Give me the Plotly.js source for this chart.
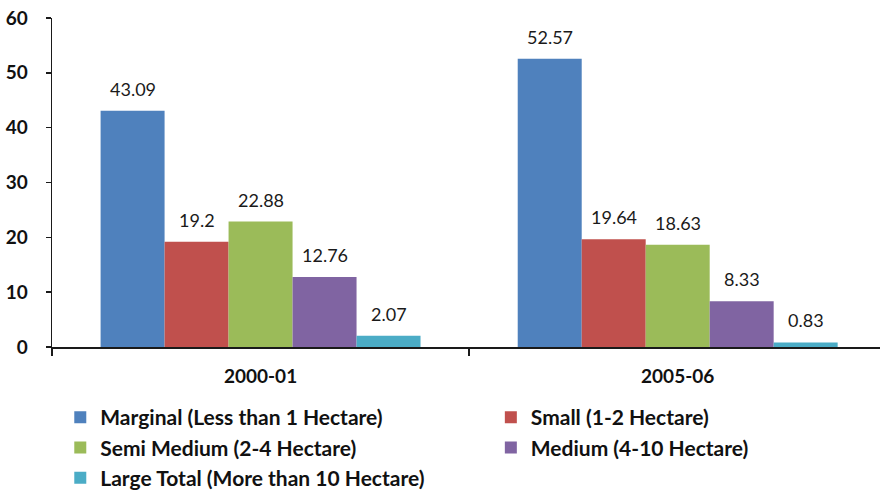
<!DOCTYPE html>
<html><head><meta charset="utf-8">
<script src="https://cdn.plot.ly/plotly-3.0.1.min.js"></script>
<style>html,body{margin:0;padding:0;background:#fff}</style>
</head><body><div id="chart" style="width:880px;height:491px"></div>
<script>
const categories = ["2000-01", "2005-06"];
const seriesNames = ["Marginal (Less than 1 Hectare)", "Small (1-2 Hectare)", "Semi Medium (2-4 Hectare)", "Medium (4-10 Hectare)", "Large Total (More than 10 Hectare)"];
const marginal = [43.09, 52.57];
const small = [19.2, 19.64];
const semiMedium = [22.88, 18.63];
const medium = [12.76, 8.33];
const largeTotal = [2.07, 0.83];
const yTicks = [0, 10, 20, 30, 40, 50, 60];

const seriesValues = [marginal, small, semiMedium, medium, largeTotal];
const colors = ["#4F81BD", "#C0504D", "#9BBB59", "#8064A2", "#4BACC6"];
const legendOf = ["legend", "legend2", "legend", "legend2", "legend"];
const FONT = "Lato, 'Open Sans', sans-serif";

const W = 880, H = 491, ML = 52, MR = 0;
const xRange = [-0.5, 1.485];
const bargap = 0.233;
const catPx = (W - ML - MR) / (xRange[1] - xRange[0]);
const barPx = catPx * (1 - bargap) / seriesValues.length;

const traces = seriesValues.map((vals, i) => ({
  type: "bar", x: categories, y: vals, name: seriesNames[i],
  marker: {color: colors[i], line: {width: 0}},
  legend: legendOf[i], hoverinfo: "skip"
}));

const annotations = [];
seriesValues.forEach((vals, i) => {
  vals.forEach((v, j) => {
    annotations.push({
      x: categories[j], y: v, xref: "x", yref: "y",
      text: String(v), showarrow: false, yanchor: "bottom",
      xshift: (i - (seriesValues.length - 1) / 2) * barPx, yshift: 9,
      font: {family: FONT, size: 18, color: "#1a1a1a"}
    });
  });
});

const legendFont = {family: FONT, size: 21, color: "#111", weight: "bold"};
const legendTop = 1 - 397 / H;
const layout = {
  width: W, height: H,
  margin: {l: ML, r: MR, t: 18, b: 144},
  paper_bgcolor: "#fff", plot_bgcolor: "#fff",
  barmode: "group", bargap: bargap, bargroupgap: 0,
  showlegend: true,
  xaxis: {
    type: "category", range: xRange, tickson: "boundaries",
    ticks: "outside", ticklen: 7, tickwidth: 1.5, tickcolor: "#1a1a1a",
    showline: true, linecolor: "#1a1a1a", linewidth: 2,
    showgrid: false, zeroline: false, ticklabelstandoff: 11,
    tickfont: {family: FONT, size: 19, color: "#111", weight: "bold"}
  },
  yaxis: {
    range: [0, 60], tickvals: yTicks, ticktext: yTicks.map(String),
    ticks: "outside", ticklen: 5, tickwidth: 1.5, tickcolor: "#1a1a1a",
    showline: true, linecolor: "#1a1a1a", linewidth: 1.5,
    showgrid: false, zeroline: false, ticklabelstandoff: 14,
    tickfont: {family: FONT, size: 19, color: "#111", weight: "bold"}
  },
  legend: {
    x: 0.01, xanchor: "left", y: legendTop, yref: "container", yanchor: "top",
    orientation: "v", bgcolor: "rgba(0,0,0,0)", tracegroupgap: 0,
    font: legendFont
  },
  legend2: {
    x: 0.53, xanchor: "left", y: legendTop, yref: "container", yanchor: "top",
    orientation: "v", bgcolor: "rgba(0,0,0,0)", tracegroupgap: 0,
    font: legendFont
  },
  annotations: annotations
};

Plotly.newPlot("chart", traces, layout, {displayModeBar: false, staticPlot: true});
</script>
</body></html>
